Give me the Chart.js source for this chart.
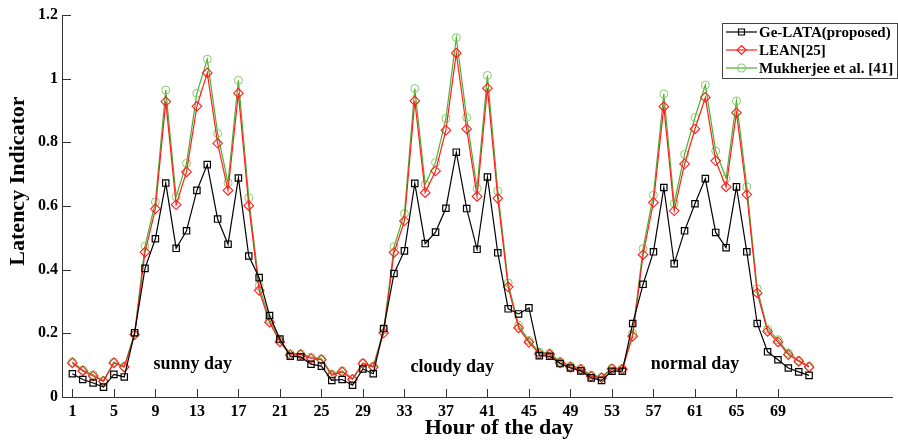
<!DOCTYPE html>
<html>
<head>
<meta charset="utf-8">
<script src="https://cdn.jsdelivr.net/npm/chart.js@4.4.0/dist/chart.umd.min.js"></script>
<style>
  html, body { margin: 0; padding: 0; background: #fff; }
  #wrap { width: 898px; height: 441px; }
</style>
</head>
<body>
<div id="wrap"><canvas id="chart"></canvas></div>
<script>
// hours of the three days (x axis)
const hours = [1, 2, 3, 4, 5, 6, 7, 8, 9, 10, 11, 12, 13, 14, 15, 16, 17, 18, 19, 20, 21, 22, 23, 24,
  25, 26, 27, 28, 29, 30, 31, 32, 33, 34, 35, 36, 37, 38, 39, 40, 41, 42, 43, 44, 45, 46, 47, 48,
  49, 50, 51, 52, 53, 54, 55, 56, 57, 58, 59, 60, 61, 62, 63, 64, 65, 66, 67, 68, 69, 70, 71, 72];

const geLata = [0.073, 0.055, 0.044, 0.031, 0.071, 0.063, 0.202, 0.404, 0.497, 0.672, 0.467, 0.522,
  0.649, 0.730, 0.559, 0.480, 0.688, 0.443, 0.375, 0.256, 0.182, 0.128, 0.126, 0.103,
  0.097, 0.052, 0.055, 0.037, 0.088, 0.073, 0.215, 0.388, 0.459, 0.671, 0.482, 0.518,
  0.593, 0.769, 0.592, 0.464, 0.691, 0.453, 0.277, 0.261, 0.280, 0.130, 0.128, 0.105,
  0.091, 0.082, 0.060, 0.052, 0.081, 0.081, 0.231, 0.354, 0.456, 0.658, 0.419, 0.522,
  0.607, 0.686, 0.517, 0.469, 0.660, 0.456, 0.231, 0.142, 0.117, 0.091, 0.079, 0.068];

const lean = [0.107, 0.082, 0.066, 0.049, 0.107, 0.094, 0.196, 0.455, 0.591, 0.928, 0.604, 0.707,
  0.913, 1.018, 0.797, 0.649, 0.954, 0.601, 0.335, 0.235, 0.173, 0.132, 0.133, 0.121,
  0.117, 0.068, 0.079, 0.055, 0.105, 0.094, 0.201, 0.454, 0.553, 0.930, 0.642, 0.710,
  0.838, 1.080, 0.842, 0.630, 0.970, 0.624, 0.346, 0.217, 0.172, 0.136, 0.134, 0.107,
  0.094, 0.086, 0.065, 0.060, 0.088, 0.087, 0.191, 0.447, 0.611, 0.912, 0.585, 0.732,
  0.842, 0.941, 0.742, 0.660, 0.893, 0.636, 0.327, 0.206, 0.173, 0.133, 0.112, 0.094];

const mukherjee = [0.110, 0.085, 0.070, 0.052, 0.110, 0.096, 0.201, 0.474, 0.613, 0.964, 0.629, 0.734,
  0.954, 1.061, 0.828, 0.673, 0.995, 0.626, 0.349, 0.243, 0.178, 0.136, 0.136, 0.125,
  0.120, 0.072, 0.082, 0.058, 0.107, 0.097, 0.210, 0.472, 0.576, 0.969, 0.668, 0.737,
  0.875, 1.129, 0.878, 0.655, 1.010, 0.647, 0.358, 0.225, 0.178, 0.141, 0.138, 0.112,
  0.098, 0.090, 0.069, 0.063, 0.091, 0.090, 0.199, 0.466, 0.634, 0.952, 0.608, 0.762,
  0.878, 0.980, 0.773, 0.687, 0.930, 0.660, 0.340, 0.213, 0.180, 0.138, 0.115, 0.097];

const seriesNames = ['Ge-LATA(proposed)', 'LEAN[25]', 'Mukherjee et al. [41]'];
const xTicks = [1, 5, 9, 13, 17, 21, 25, 29, 33, 37, 41, 45, 49, 53, 57, 61, 65, 69];
const yTicks = [0, 0.2, 0.4, 0.6, 0.8, 1, 1.2];
const dayNames = ['sunny day', 'cloudy day', 'normal day'];
const xTitle = 'Hour of the day';
const yTitle = 'Latency Indicator';

const serif = "'Liberation Serif', 'Times New Roman', serif";

function points(values) {
  return hours.map((h, i) => ({ x: h, y: values[i] }));
}

// inward tick marks, axis titles, day names and the boxed legend (MATLAB look)
const extras = {
  id: 'extras',
  afterDatasetsDraw(chart) {
    const ctx = chart.ctx;
    const xs = chart.scales.x, ys = chart.scales.y;
    const area = chart.chartArea;
    ctx.save();
    ctx.strokeStyle = '#333';
    ctx.lineWidth = 1;
    ctx.beginPath();
    xTicks.forEach(t => {
      const px = Math.round(xs.getPixelForValue(t)) + 0.5;
      ctx.moveTo(px, area.bottom);
      ctx.lineTo(px, area.bottom - 8);
    });
    yTicks.forEach(t => {
      const py = Math.round(ys.getPixelForValue(t)) + 0.5;
      ctx.moveTo(area.left, py);
      ctx.lineTo(area.left + 9, py);
    });
    ctx.stroke();

    // axis titles
    ctx.fillStyle = '#000';
    ctx.font = 'bold 22px ' + serif;
    ctx.textAlign = 'center';
    ctx.textBaseline = 'middle';
    ctx.fillText(xTitle, 499, 428);
    ctx.save();
    ctx.translate(18, 181);
    ctx.rotate(-Math.PI / 2);
    ctx.fillText(yTitle, 0, 0);
    ctx.restore();

    // day names
    const dayPos = [[12.6, 0.104], [37.6, 0.094], [61.0, 0.104]];
    ctx.font = 'bold 18px ' + serif;
    dayNames.forEach((name, i) => {
      ctx.fillText(name, xs.getPixelForValue(dayPos[i][0]), ys.getPixelForValue(dayPos[i][1]));
    });

    // legend
    const lx = 722.5, ly = 23.5, lw = 175, lh = 55;
    ctx.fillStyle = '#fff';
    ctx.fillRect(lx, ly, lw, lh);
    ctx.strokeStyle = '#444';
    ctx.strokeRect(lx, ly, lw, lh);
    ctx.font = 'bold 15px ' + serif;
    ctx.textAlign = 'left';
    chart.data.datasets.forEach((ds, i) => {
      const y = 32 + i * 18;
      ctx.strokeStyle = ds.borderColor;
      ctx.lineWidth = 1.2;
      ctx.beginPath();
      ctx.moveTo(726, y);
      ctx.lineTo(757, y);
      ctx.stroke();
      ctx.strokeStyle = ds.pointBorderColor;
      ctx.beginPath();
      const cx = 741.5;
      if (ds.pointStyle === 'rect') {
        ctx.rect(cx - 3, y - 3, 6, 6);
      } else if (ds.pointStyle === 'rectRot') {
        ctx.moveTo(cx, y - 4.5); ctx.lineTo(cx + 4.5, y); ctx.lineTo(cx, y + 4.5); ctx.lineTo(cx - 4.5, y); ctx.closePath();
      } else {
        ctx.arc(cx, y, 4, 0, Math.PI * 2);
      }
      ctx.stroke();
      ctx.fillStyle = '#000';
      ctx.fillText(ds.label, 759, y + 1);
    });
    ctx.restore();
  }
};

const ctx = document.getElementById('chart').getContext('2d');
const chart = new Chart(ctx, {
  type: 'line',
  data: {
    datasets: [{
      label: seriesNames[0],
      data: points(geLata),
      borderColor: '#000',
      borderWidth: 1.2,
      pointStyle: 'rect',
      pointRadius: 4.5,
      pointBorderColor: '#000',
      pointBorderWidth: 1.2,
      pointBackgroundColor: 'rgba(0,0,0,0)'
    }, {
      label: seriesNames[1],
      data: points(lean),
      borderColor: '#ff1e1e',
      borderWidth: 1.2,
      pointStyle: 'rectRot',
      pointRadius: 4.8,
      pointBorderColor: '#ff1e1e',
      pointBorderWidth: 1.1,
      pointBackgroundColor: 'rgba(0,0,0,0)'
    }, {
      label: seriesNames[2],
      data: points(mukherjee),
      borderColor: '#4cb030',
      borderWidth: 1.2,
      pointStyle: 'circle',
      pointRadius: 4,
      pointBorderColor: '#86cc66',
      pointBorderWidth: 1,
      pointBackgroundColor: 'rgba(0,0,0,0)'
    }]
  },
  options: {
    responsive: true,
    maintainAspectRatio: false,
    animation: false,
    layout: { padding: { top: 15, right: 1, left: 0, bottom: 0 } },
    plugins: {
      legend: { display: false },
      tooltip: { enabled: false }
    },
    elements: { line: { tension: 0 } },
    scales: {
      x: {
        type: 'linear',
        min: 0,
        max: 80,
        afterBuildTicks: s => { s.ticks = xTicks.map(v => ({ value: v })); },
        afterFit: s => { s.height = 44; },
        grid: { display: false, drawTicks: false },
        border: { display: true, color: '#333', width: 1 },
        ticks: {
          color: '#000',
          padding: 5,
          maxRotation: 0,
          autoSkip: false,
          font: { family: serif, size: 16, weight: 'bold' },
          callback: v => String(v)
        }
      },
      y: {
        min: 0,
        max: 1.2,
        afterBuildTicks: s => { s.ticks = yTicks.map(v => ({ value: v })); },
        afterFit: s => { s.width = 62; },
        grid: { display: false, drawTicks: false },
        border: { display: true, color: '#333', width: 1 },
        ticks: {
          color: '#000',
          padding: 4,
          font: { family: serif, size: 16, weight: 'bold' },
          callback: v => String(v)
        }
      }
    }
  },
  plugins: [extras]
});
</script>
</body>
</html>
